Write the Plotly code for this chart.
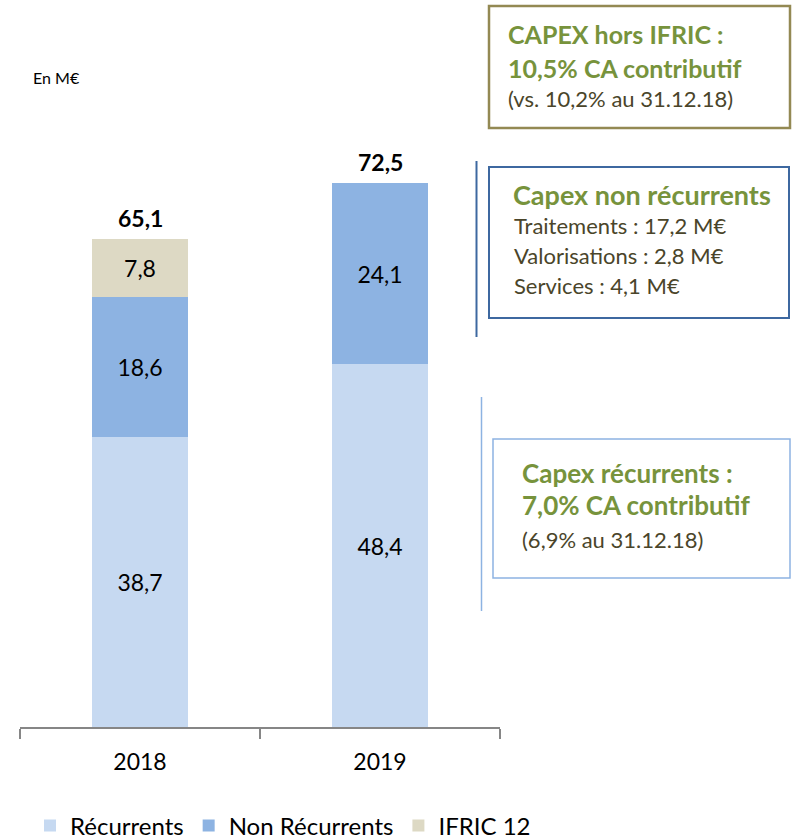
import plotly.graph_objects as go

years = ["2018", "2019"]
recurrents = [38.7, 48.4]
non_recurrents = [18.6, 24.1]
ifric12 = [7.8, None]
totals = [65.1, 72.5]
series_names = ["Récurrents", "Non Récurrents", "IFRIC 12"]
series_colors = ["#C6D9F1", "#8DB3E2", "#DDD9C4"]

FONT = "Lato"
GREEN = "#77933C"
DARK = "#4A452A"

# layout geometry: plot region x 20..720 (axis domain covers 20..500), y 127..727
L, R_EDGE, T, B = 20, 720, 127, 727
GW = R_EDGE - L
GH = B - T

def fmt(v):
    return "" if v is None else f"{v:.1f}".replace(".", ",")

fig = go.Figure()
for name, vals, col in zip(series_names, [recurrents, non_recurrents, ifric12], series_colors):
    fig.add_trace(go.Bar(
        x=years, y=vals, name=name, marker=dict(color=col, line=dict(width=0)),
        text=[fmt(v) for v in vals], textposition="inside", insidetextanchor="middle",
        textfont=dict(family=FONT, size=23, color="#000000"),
        constraintext="none", width=0.4, hoverinfo="skip",
    ))

# totals above bars
for i, t in enumerate(totals):
    fig.add_annotation(x=i, y=t, xref="x", yref="y", text="<b>" + fmt(t) + "</b>", showarrow=False,
                       yanchor="bottom", yshift=5,
                       font=dict(family=FONT, size=23, color="#000000"))

def px(xp):
    return (xp - L) / GW

def py(yp):
    return (B - yp) / GH

shapes = []
# Box 1
shapes.append(dict(type="rect", xref="paper", yref="paper", x0=px(489), x1=px(790), y0=py(128), y1=py(6),
                   line=dict(color="#938953", width=2.5), fillcolor="rgba(0,0,0,0)"))
# Box 2 + vertical line
shapes.append(dict(type="rect", xref="paper", yref="paper", x0=px(489), x1=px(789), y0=py(318), y1=py(167),
                   line=dict(color="#3D68A0", width=2), fillcolor="rgba(0,0,0,0)"))
shapes.append(dict(type="line", xref="paper", yref="paper", x0=px(476.5), x1=px(476.5), y0=py(337), y1=py(161),
                   line=dict(color="#3D68A0", width=2)))
# Box 3 + vertical line
shapes.append(dict(type="rect", xref="paper", yref="paper", x0=px(493), x1=px(790), y0=py(578), y1=py(439),
                   line=dict(color="#8DB3E2", width=1.5), fillcolor="rgba(0,0,0,0)"))
shapes.append(dict(type="line", xref="paper", yref="paper", x0=px(481.5), x1=px(481.5), y0=py(611), y1=py(397),
                   line=dict(color="#8DB3E2", width=1.5)))

def txt(x, y, s, size, color, bold=False):
    fig.add_annotation(xref="paper", yref="paper", x=px(x), y=py(y), xanchor="left", yanchor="middle",
                       text=("<b>" + s + "</b>") if bold else s, showarrow=False,
                       font=dict(family=FONT, size=size, color=color))

txt(506, 34, "CAPEX hors IFRIC :", 25, GREEN, True)
txt(506, 68, "10,5% CA contributif", 25, GREEN, True)
txt(506, 98, "(vs. 10,2% au 31.12.18)", 22, DARK)

txt(511, 194, "Capex non récurrents", 27, GREEN, True)
txt(512, 225, "Traitements : 17,2 M€", 22, DARK)
txt(512, 255, "Valorisations : 2,8 M€", 22, DARK)
txt(512, 285, "Services : 4,1 M€", 22, DARK)

txt(520, 473, "Capex récurrents :", 26, GREEN, True)
txt(520, 505, "7,0% CA contributif", 26, GREEN, True)
txt(520, 539, "(6,9% au 31.12.18)", 22, DARK)

txt(31, 77, "En M€", 16, "#000000")

fig.update_layout(
    barmode="stack",
    width=792, height=840,
    margin=dict(l=L, r=792 - R_EDGE, t=T, b=840 - B, autoexpand=False),
    paper_bgcolor="white", plot_bgcolor="white",
    font=dict(family=FONT, color="#000000"),
    shapes=shapes,
    showlegend=True,
    legend=dict(orientation="h", x=px(30), xanchor="left", y=py(826), yanchor="middle",
                font=dict(family=FONT, size=24, color="#000000"), traceorder="normal",
                itemwidth=30, bgcolor="rgba(0,0,0,0)"),
    xaxis=dict(type="category", domain=[0, 480 / GW], range=[-0.5, 1.5], showline=True,
               linecolor="#868686", linewidth=1.5,
               ticks="outside", tickson="boundaries", ticklen=10, tickcolor="#868686", tickwidth=1.5,
               tickfont=dict(family=FONT, size=23, color="#000000"), showgrid=False, ticklabelstandoff=14,
               fixedrange=True),
    yaxis=dict(range=[0, 80], showticklabels=False, showline=False, zeroline=False, showgrid=False,
               ticks="", fixedrange=True),
    uniformtext=dict(minsize=8, mode="show"),
)

fig.write_html("out.html", config={"displayModeBar": False},
               post_script="document.body.style.margin='0';document.body.style.overflow='hidden';")
